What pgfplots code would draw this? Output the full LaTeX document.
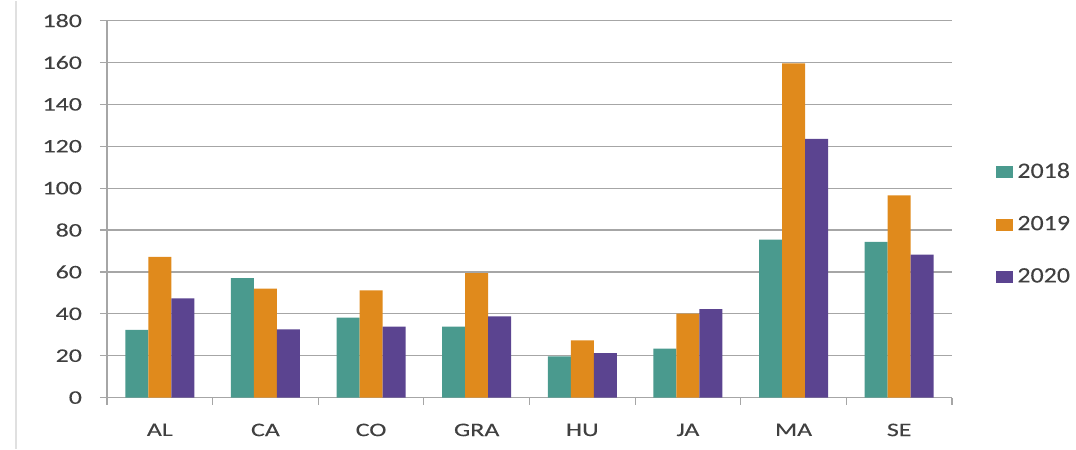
\documentclass[border=0pt]{standalone}
\usepackage{pgfplots}
\pgfplotsset{compat=1.18}
\usepackage{fontspec}
\setmainfont{Carlito}
\newfontfamily\tickfont[FakeStretch=1.35,FakeBold=0.12]{Carlito}
\newfontfamily\legfont[FakeStretch=1.18,FakeBold=0.12]{Carlito}
\definecolor{cTeal}{HTML}{4A9A8E}
\definecolor{cOrange}{HTML}{E08A1C}
\definecolor{cPurple}{HTML}{5B4490}
\definecolor{cText}{HTML}{404040}
\definecolor{cGrid}{HTML}{A6A6A6}
\pgfplotsset{
  sqlegend/.style={legend image code/.code={\fill[##1] (0pt,-3pt) rectangle (8.5pt,3pt);}},
}
\begin{document}
\begin{tikzpicture}
\begin{axis}[
  name=ax,
  scale only axis,
  width=422.5pt, height=188.5pt,
  ymin=0, ymax=180,
  ytick={0,20,...,180},
  xmin=-0.5, xmax=7.5,
  xtick={-0.5,0.5,...,7.5},
  x tick label as interval,
  xticklabels={AL,CA,CO,GRA,HU,JA,MA,SE},
  axis x line*=bottom,
  axis y line*=left,
  axis line style={cGrid, line width=0.6pt, -},
  ymajorgrids,
  grid style={cGrid, line width=0.6pt},
  tick align=outside,
  major tick length=3.5pt,
  tick style={cGrid, line width=0.6pt},
  ticklabel style={font=\tickfont\fontsize{9.6}{11}\selectfont, text=cText},
  /pgf/number format/assume math mode=true,
  yticklabel style={xshift=-5.5pt},
  xticklabel style={yshift=-6pt},
  ybar=0pt,
  bar width=11.5pt,
  sqlegend,
  legend style={draw=none, fill=none, at={(1,0.46)}, xshift=22pt, anchor=west,
    inner sep=0pt, row sep=13.5pt, font=\legfont\fontsize{11}{12}\selectfont, text=cText,
    nodes={inner xsep=2pt}},
  legend cell align=left,
]
\addplot[fill=cTeal, draw=none] coordinates {(0,32.3) (1,57.0) (2,38.2) (3,33.9) (4,19.7) (5,23.4) (6,75.4) (7,74.3)};
\addplot[fill=cOrange, draw=none] coordinates {(0,67.2) (1,52.0) (2,51.2) (3,59.4) (4,27.3) (5,40.1) (6,159.6) (7,96.5)};
\addplot[fill=cPurple, draw=none] coordinates {(0,47.4) (1,32.6) (2,33.9) (3,38.8) (4,21.2) (5,42.3) (6,123.5) (7,68.3)};
\legend{2018,2019,2020}
\end{axis}
\pgfresetboundingbox
\path ([xshift=-53.5pt,yshift=-25.5pt]ax.south west) rectangle ([xshift=62pt,yshift=10pt]ax.north east);
\draw[black!12, line width=0.6pt] ([xshift=-45.5pt,yshift=-25.5pt]ax.south west) -- ([xshift=-45.5pt,yshift=10pt]ax.north west);
\end{tikzpicture}
\end{document}
